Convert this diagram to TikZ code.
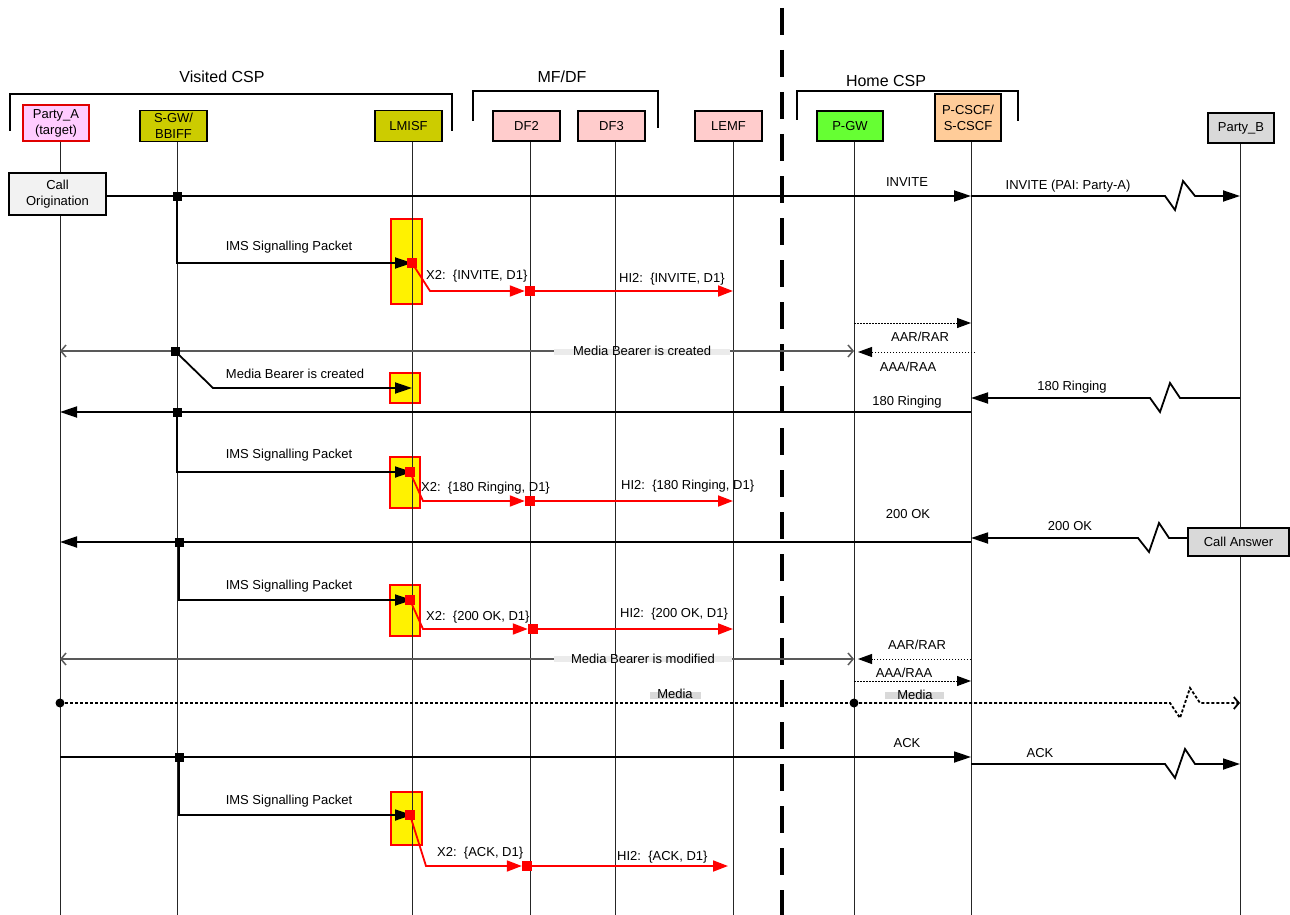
\documentclass[tikz,border=0pt]{standalone}
\usepackage{fontspec}
\setmainfont{Liberation Sans}
\usetikzlibrary{arrows.meta}
\definecolor{pinkA}{HTML}{FFCCFF}
\definecolor{oliveY}{HTML}{CCCC00}
\definecolor{dfpink}{HTML}{FFCCCC}
\definecolor{pgwgreen}{HTML}{66FF33}
\definecolor{peach}{HTML}{FFCC99}
\definecolor{lgray}{HTML}{D9D9D9}
\definecolor{vlgray}{HTML}{F2F2F2}
\definecolor{bandgray}{HTML}{EBEBEB}
\definecolor{redB}{HTML}{E00000}
\newcommand\lblf{\fontsize{13}{16}\selectfont}
\newcommand\hdrf{\fontsize{16}{19}\selectfont}
\begin{document}
\begin{tikzpicture}[x=1pt,y=-1pt,
  ent/.style={draw=black, line width=1.4pt, align=center, inner sep=0pt, minimum width=67pt, minimum height=31pt, font=\lblf},
  life/.style={line width=0.9pt, black!85},
  brk/.style={line width=1.5pt},
  msg/.style={line width=1.8pt, -{Triangle[length=17pt,width=11pt]}},
  rmsg/.style={line width=1.8pt, red, -{Triangle[length=15pt,width=11pt]}},
  dmsg/.style={line width=1pt, dash pattern=on 1.5pt off 1.5pt, -{Triangle[length=14pt,width=10pt]}},
  bear/.style={line width=1.5pt, black!65, {Straight Barb[length=5pt,width=12pt]}-{Straight Barb[length=5pt,width=12pt]}},
  media/.style={line width=1.8pt, dash pattern=on 3pt off 2pt},
  bsq/.style={fill=black, minimum size=9pt, inner sep=0pt},
  rsq/.style={fill=red, minimum size=10pt, inner sep=0pt},
  act/.style={draw=red, fill=yellow, line width=1.5pt, inner sep=0pt},
  lbl/.style={font=\lblf, inner sep=0pt},
  lbll/.style={font=\lblf, inner sep=0pt, anchor=west},
  hdr/.style={font=\hdrf, inner sep=0pt},
]
\useasboundingbox (0,0) rectangle (1290,915);

% group brackets
\draw[brk] (10,131) -- (10,94) -- (452,94) -- (452,131);
\node[hdr] (visited) at (222,77) {Visited CSP};
\draw[brk] (473,121) -- (473,91) -- (658,91) -- (658,128);
\node[hdr] (mfdf) at (562,77) {MF/DF};
\draw[brk] (797,120) -- (797,91) -- (1018,91) -- (1018,121);
\node[hdr] (home) at (886,81) {Home CSP};

% entities
\node[ent, fill=pinkA, draw=redB, minimum width=66pt, minimum height=36pt] (pa) at (56,123) {Party\_A\\(target)};
\node[ent, fill=oliveY] (sgw) at (173.5,126) {S-GW/\\BBIFF};
\node[ent, fill=oliveY] (lm) at (408.5,126) {LMISF};
\node[ent, fill=dfpink, minimum height=30pt] (df2) at (526.5,126) {DF2};
\node[ent, fill=dfpink, minimum height=30pt] (df3) at (611.5,126) {DF3};
\node[ent, fill=dfpink, minimum height=30pt] (lemf) at (728.5,126) {LEMF};
\node[ent, fill=pgwgreen, minimum width=66pt, minimum height=30pt] (pgw) at (850,126) {P-GW};
\node[ent, fill=peach, minimum width=66pt, minimum height=47pt] (pcscf) at (968,117.5) {P-CSCF/\\S-CSCF};
\node[ent, fill=lgray, minimum width=66pt, minimum height=30pt] (pb) at (1241,128) {Party\_B};

% lifeline bottoms
\coordinate (pab) at (60,915);
\coordinate (sgwb) at (177,915);
\coordinate (lmb) at (412,915);
\coordinate (df2b) at (530,915);
\coordinate (df3b) at (615,915);
\coordinate (lemfb) at (733,915);
\coordinate (pgwb) at (854,915);
\coordinate (pcb) at (971,915);
\coordinate (pbb) at (1240,915);

% activation boxes
\node[act, minimum width=31pt, minimum height=85pt] (a1) at (406.5,261.5) {};
\node[act, minimum width=30pt, minimum height=30pt] (a2) at (405,388) {};
\node[act, minimum width=30pt, minimum height=51pt] (a3) at (405,482.5) {};
\node[act, minimum width=30pt, minimum height=51pt] (a4) at (405,610.5) {};
\node[act, minimum width=31pt, minimum height=53pt] (a5) at (406.5,818.5) {};

% lifelines
\foreach \n/\b in {pa/pab, sgw/sgwb, lm/lmb, df2/df2b, df3/df3b, lemf/lemfb, pgw/pgwb, pcscf/pcb, pb/pbb}
  \draw[life] (\n.south -| \b) -- (\b);

% domain separator
\coordinate (septop) at (782,8);
\coordinate (sepbot) at (782,915);
\draw[line width=3.3pt, dash pattern=on 27pt off 15pt] (septop) -- (sepbot);

% boxes on lifelines
\node[ent, fill=vlgray, minimum width=97pt, minimum height=42pt] (co) at (57.5,194) {Call\\Origination};
\node[ent, fill=lgray, minimum width=101pt, minimum height=28pt] (ca) at (1238.5,542) {Call Answer};

% ---- INVITE ----
\draw[msg] (co.east |- 0,196) -- (pcb |- 0,196);
\node[lbl] (l1) at (907,182) {INVITE};
\draw[msg] (pcb |- 0,196) -- (1165,196) -- (1175,210) -- (1183,181) -- (1195,196) -- (pbb |- 0,196);
\node[lbl] (l2) at (1068,186) {INVITE (PAI: Party-A)};
\node[bsq] (j1) at (sgwb |- 0,196) {};
\draw[msg] (j1.center) -- (177,263) -- (lmb |- 0,263);
\node[lbl] (l3) at (289,247) {IMS Signalling Packet};
\node[rsq] (r1) at (lmb |- 0,263) {};
\node[rsq] (r1b) at (df2b |- 0,291) {};
\draw[rmsg] (r1.center) -- (430,291) -- (r1b.west);
\draw[rmsg] (r1b.center) -- (lemfb |- 0,291);
\node[lbll] (l4) at (426,276) {X2:\ \ \{INVITE, D1\}};
\node[lbll] (l5) at (619,279) {HI2:\ \ \{INVITE, D1\}};

% ---- AAR / AAA 1 ----
\draw[dmsg] (pgwb |- 0,323) -- (pcb |- 0,323);
\node[lbl] (l6) at (920,337) {AAR/RAR};
\draw[dmsg] (975,352) -- (858,352);
\node[lbl] (l7) at (908,367) {AAA/RAA};

% ---- Media bearer created ----
\draw[bear] (pab |- 0,351) -- (pgwb |- 0,351);
\fill[bandgray] (554,349) rectangle (730,355);
\node[lbl] (l8) at (642,351) {Media Bearer is created};
\node[bsq] (j2) at (175,351) {};
\draw[msg] (j2.center) -- (213,388) -- (lmb |- 0,388);
\node[lbl] (l9) at (295,374) {Media Bearer is created};

% ---- 180 Ringing ----
\draw[msg] (pbb |- 0,398) -- (1180,398) -- (1170,383) -- (1160,412) -- (1150,398) -- (pcb |- 0,398);
\node[lbl] (l10) at (1072,387) {180 Ringing};
\draw[msg] (pcb |- 0,412) -- (pab |- 0,412);
\node[lbl] (l11) at (907,402) {180 Ringing};
\node[bsq] (j3) at (sgwb |- 0,412) {};
\draw[msg] (j3.center) -- (177,472) -- (lmb |- 0,472);
\node[lbl] (l12) at (289,455) {IMS Signalling Packet};
\node[rsq] (r2) at (410,472) {};
\node[rsq] (r2b) at (df2b |- 0,501) {};
\draw[rmsg] (r2.center) -- (423,501) -- (r2b.west);
\draw[rmsg] (r2b.center) -- (lemfb |- 0,501);
\node[lbll] (l13) at (421,488) {X2:\ \ \{180 Ringing, D1\}};
\node[lbll] (l14) at (621,486) {HI2:\ \ \{180 Ringing, D1\}};

% ---- 200 OK ----
\draw[msg] (ca.west |- 0,538) -- (1169,538) -- (1159,523) -- (1149,552) -- (1138,538) -- (pcb |- 0,538);
\node[lbl] (l15) at (1070,526) {200 OK};
\draw[msg] (pcb |- 0,542) -- (pab |- 0,542);
\node[lbl] (l16) at (908,514) {200 OK};
\node[bsq] (j4) at (179,542) {};
\draw[msg] (j4.center) -- (179,600) -- (lmb |- 0,600);
\node[lbl] (l17) at (289,586) {IMS Signalling Packet};
\node[rsq] (r3) at (410,600) {};
\node[rsq] (r3b) at (533,629) {};
\draw[rmsg] (r3.center) -- (423,629) -- (r3b.west);
\draw[rmsg] (r3b.center) -- (lemfb |- 0,629);
\node[lbll] (l18) at (426,617) {X2:\ \ \{200 OK, D1\}};
\node[lbll] (l19) at (620,614) {HI2:\ \ \{200 OK, D1\}};

% ---- Media bearer modified ----
\draw[bear] (pab |- 0,659) -- (pgwb |- 0,659);
\fill[bandgray] (554,656) rectangle (732,662);
\node[lbl] (l20) at (643,659) {Media Bearer is modified};
\draw[dmsg] (pcb |- 0,659) -- (858,659);
\node[lbl] (l21) at (917,645) {AAR/RAR};
\draw[dmsg] (pgwb |- 0,681) -- (pcb |- 0,681);
\node[lbl] (l22) at (904,673) {AAA/RAA};

% ---- Media ----
\node[circle, fill=black, minimum size=9pt, inner sep=0pt] (m1) at (pab |- 0,703) {};
\node[circle, fill=black, minimum size=9pt, inner sep=0pt] (m2) at (pgwb |- 0,703) {};
\draw[media] (m1.center) -- (m2.center);
\draw[media, -{Straight Barb[length=5pt,width=12pt]}] (m2.center) -- (1170,703) -- (1180,718) -- (1190,688) -- (1200,703) -- (pbb |- 0,703);
\fill[lgray] (650,692) rectangle (701,699);
\node[lbl] (l23) at (675,694) {Media};
\fill[lgray] (885,692) rectangle (944,699);
\node[lbl] (l24) at (915,695) {Media};

% ---- ACK ----
\draw[msg] (pab |- 0,757) -- (pcb |- 0,757);
\node[lbl] (l25) at (907,743) {ACK};
\draw[msg] (pcb |- 0,764) -- (1165,764) -- (1175,778) -- (1185,749) -- (1195,764) -- (pbb |- 0,764);
\node[lbl] (l26) at (1040,753) {ACK};
\node[bsq] (j5) at (179,757) {};
\draw[msg] (j5.center) -- (179,815) -- (lmb |- 0,815);
\node[lbl] (l27) at (289,801) {IMS Signalling Packet};
\node[rsq] (r4) at (410,815) {};
\node[rsq] (r4b) at (527,866) {};
\draw[rmsg] (r4.center) -- (426,866) -- (r4b.west);
\draw[rmsg] (r4b.center) -- (728,866);
\node[lbll] (l28) at (437,853) {X2:\ \ \{ACK, D1\}};
\node[lbll] (l29) at (617,857) {HI2:\ \ \{ACK, D1\}};
\end{tikzpicture}
\end{document}
